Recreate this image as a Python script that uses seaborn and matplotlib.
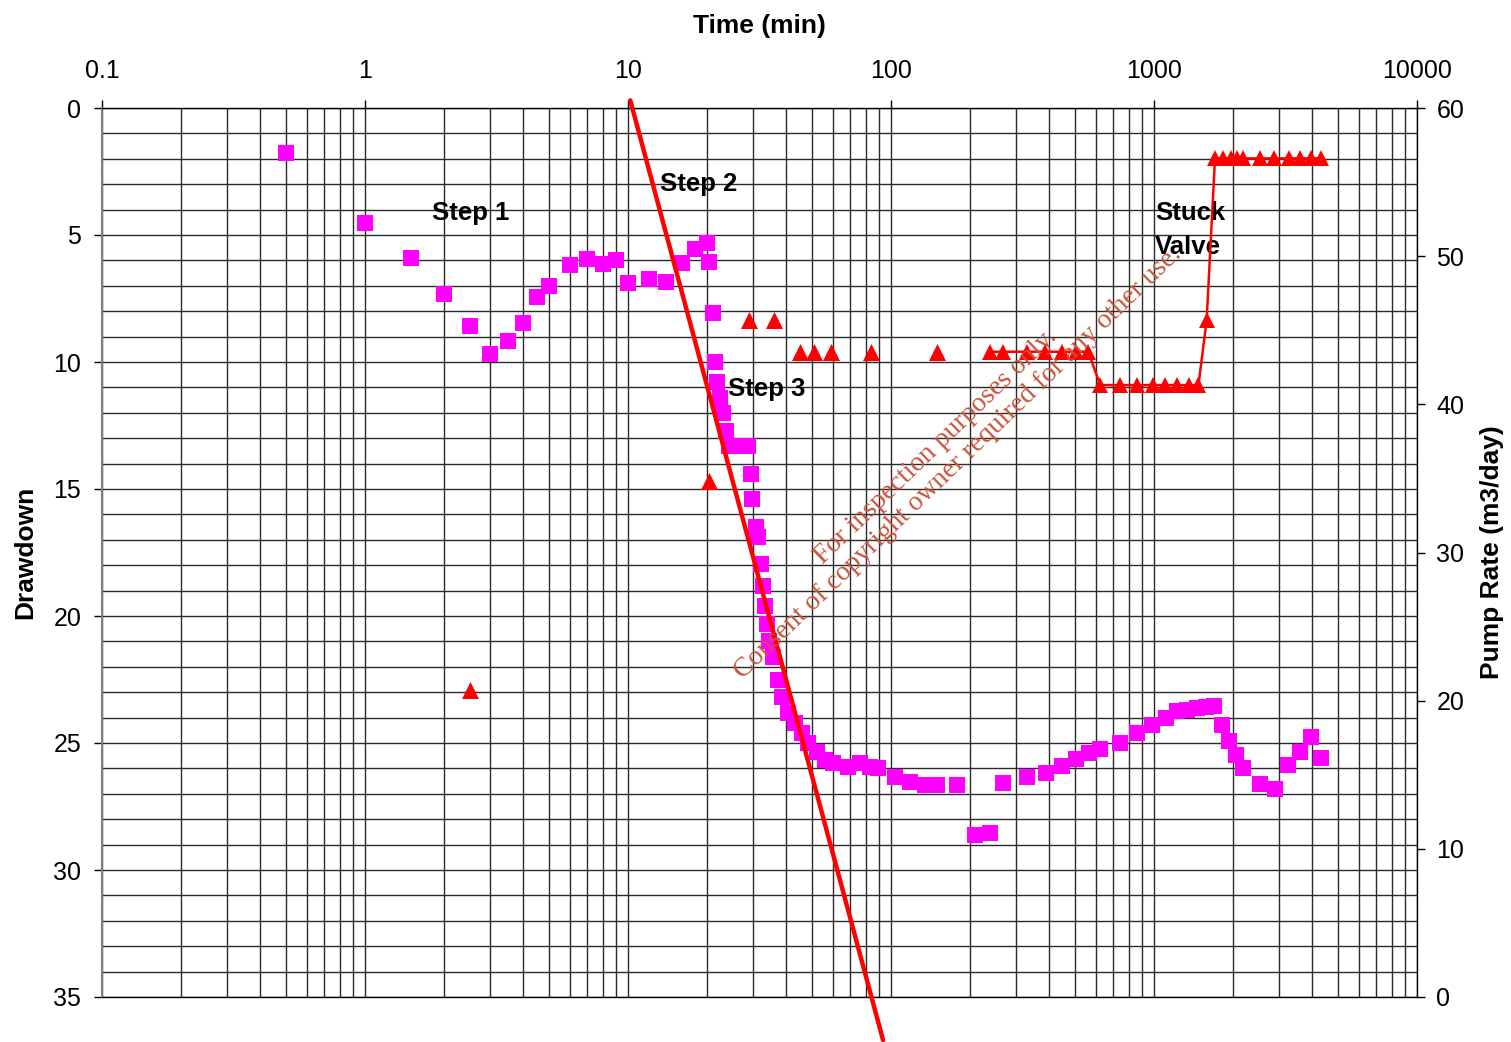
import numpy as np
import pandas as pd
import matplotlib
matplotlib.use("Agg")
import matplotlib.pyplot as plt
from matplotlib.ticker import LogLocator, FixedLocator, FixedFormatter, MultipleLocator, NullFormatter
import seaborn as sns

# Drawdown (magenta squares)
dd_time = [0.5, 1.0, 1.5, 2.0, 2.5, 3.0, 3.5, 4.0, 4.5, 5.0, 6.0, 7.0, 8.0, 9.0, 10, 12, 14, 16, 18, 20,
           20.3, 21, 21.4, 21.8, 22.3, 23, 23.6, 24.3, 26, 27.3, 28.6, 29.4, 29.7, 30.7, 31.2, 32.0, 32.6,
           33.2, 33.8, 34.5, 35.6, 37.2, 38.5, 40.6, 43.1, 45.9, 48.3, 52.3, 56.1, 60.2, 68.7, 76.2, 83.2,
           89.3, 103.5, 118, 134.6, 149.5, 178, 208.5, 237.7, 266.5, 328.9, 388, 446.7, 505, 566, 623,
           742, 862, 982, 1111, 1223, 1334, 1456, 1577, 1691, 1814, 1928, 2050, 2179, 2529, 2884, 3233,
           3590, 3953, 4315]
dd_value = [1.77, 4.52, 5.92, 7.32, 8.6, 9.68, 9.17, 8.48, 7.46, 6.99, 6.18, 5.96, 6.15, 5.98, 6.88, 6.74,
            6.87, 6.09, 5.57, 5.32, 6.08, 8.08, 10.0, 10.8, 11.4, 12.0, 12.7, 13.3, 13.3, 13.3, 13.3, 14.4,
            15.4, 16.5, 16.9, 17.95, 18.8, 19.6, 20.3, 21.0, 21.6, 22.5, 23.2, 23.8, 24.2, 24.6, 25.0,
            25.35, 25.67, 25.8, 25.95, 25.8, 25.95, 26.0, 26.35, 26.55, 26.65, 26.65, 26.65, 28.62, 28.55,
            26.57, 26.34, 26.18, 25.91, 25.63, 25.39, 25.24, 25.0, 24.61, 24.29, 24.02, 23.74, 23.7, 23.62,
            23.58, 23.54, 24.29, 24.92, 25.47, 25.98, 26.61, 26.81, 25.87, 25.35, 24.76, 25.59]

# Pump rate (red triangles), loose points
pr_time = [2.5, 20.3, 28.9, 35.9, 45.1, 51.1, 59, 83.8, 149]
pr_rate = [20.7, 34.8, 45.7, 45.7, 43.55, 43.55, 43.55, 43.55, 43.55]

# Pump rate, connected part
prl_time = [238, 267, 328, 385, 448, 505, 563, 624, 742, 865, 987, 1102, 1228, 1353, 1476, 1586,
            1706, 1835, 1958, 2063, 2187, 2530, 2867, 3259, 3590, 3943, 4315]
prl_rate = [43.55, 43.55, 43.55, 43.55, 43.55, 43.55, 43.55, 41.3, 41.3, 41.3, 41.3, 41.3, 41.3, 41.3,
            41.3, 45.7, 56.6, 56.6, 56.6, 56.6, 56.6, 56.6, 56.6, 56.6, 56.6, 56.6, 56.6]

# Straight-line fit through step 3
fit_time = [10.2, 93.3]
fit_value = [-0.3, 36.7]

x_ticks = [0.1, 1, 10, 100, 1000, 10000]
x_labels = ["0.1", "1", "10", "100", "1000", "10000"]

sns.set_style("white")
plt.rcParams['font.family'] = ['Liberation Sans', 'DejaVu Sans']
plt.rcParams['text.color'] = 'black'
plt.rcParams['axes.labelcolor'] = 'black'
plt.rcParams['xtick.color'] = 'black'
plt.rcParams['ytick.color'] = 'black'

fig = plt.figure(figsize=(15.11, 10.42), dpi=100)
ax = fig.add_axes([102 / 1511, 1 - 997 / 1042, (1417 - 102) / 1511, (997 - 108) / 1042])
ax2 = ax.twinx()

dd = pd.DataFrame({"t": dd_time, "s": dd_value})
pr = pd.DataFrame({"t": pr_time, "q": pr_rate})
prl = pd.DataFrame({"t": prl_time, "q": prl_rate})

sns.scatterplot(data=dd, x="t", y="s", ax=ax, marker="s", s=120, color="#FF00FF",
                linewidth=0, zorder=3, legend=False)
ax.plot(fit_time, fit_value, color="#FF0000", linewidth=3.2, clip_on=False, zorder=4)

sns.scatterplot(data=pr, x="t", y="q", ax=ax2, marker="^", s=150, color="#FF0000",
                linewidth=0, zorder=3, legend=False)
sns.lineplot(data=prl, x="t", y="q", ax=ax2, color="#FF0000", linewidth=1.8, marker="^",
             markersize=12, markeredgewidth=0, sort=False, estimator=None, zorder=3)

ax.set_xscale("log")
ax.set_xlim(0.1, 10000)
ax.set_ylim(35, 0)
ax2.set_ylim(0, 60)

ax.grid(False)
ax2.grid(False)
ax.xaxis.set_major_locator(FixedLocator(x_ticks))
ax.xaxis.set_minor_locator(LogLocator(base=10, subs=np.arange(2, 10)))
ax.xaxis.set_major_formatter(FixedFormatter(x_labels))
ax.xaxis.set_minor_formatter(NullFormatter())
ax.yaxis.set_major_locator(MultipleLocator(5))
ax.yaxis.set_minor_locator(MultipleLocator(1))
ax.grid(True, which="both", axis="both", color="#2a2a2a", linewidth=1.0)
ax.set_axisbelow(True)

ax.xaxis.tick_top()
ax.xaxis.set_label_position("top")
ax.tick_params(axis="x", which="major", top=True, bottom=False, labeltop=True, labelbottom=False,
               direction="out", length=6, width=1, pad=12, labelsize=18)
ax.tick_params(axis="x", which="minor", top=False, bottom=False, length=0)
ax.tick_params(axis="y", which="major", left=True, direction="out", length=6, width=1, pad=9,
               labelsize=18)
ax.tick_params(axis="y", which="minor", length=0)
ax.set_xlabel("Time (min)", fontsize=19, fontweight="bold")
ax.xaxis.set_label_coords(0.5, (997 - 33) / 889)
ax.set_ylabel("Drawdown", fontsize=19, fontweight="bold")
ax.yaxis.set_label_coords((37 - 102) / 1315, 0.5)

for side in ["top", "bottom", "right"]:
    ax.spines[side].set_color("black")
    ax.spines[side].set_linewidth(1.0)
ax.spines["left"].set_color("#808080")
ax.spines["left"].set_linewidth(1.5)

ax2.yaxis.set_major_locator(MultipleLocator(10))
ax2.tick_params(axis="y", right=True, direction="out", length=6, width=1, pad=8, labelsize=18)
ax2.tick_params(axis="x", which="both", top=False, bottom=False, labeltop=False, labelbottom=False)
ax2.set_ylabel("Pump Rate (m3/day)", fontsize=19, fontweight="bold")
ax2.yaxis.set_label_coords((1480 - 102) / 1315, 0.5)
ax2.set_xlabel("")
for side in ["top", "bottom", "left", "right"]:
    ax2.spines[side].set_visible(False)

ax.text(1.80, 4.13, "Step 1", fontsize=18.5, fontweight="bold", va="center", ha="left", zorder=5)
ax.text(13.2, 2.99, "Step 2", fontsize=18.5, fontweight="bold", va="center", ha="left", zorder=5)
ax.text(24.0, 11.06, "Step 3", fontsize=18.5, fontweight="bold", va="center", ha="left", zorder=5)
ax.text(1009, 4.13, "Stuck", fontsize=18.5, fontweight="bold", va="center", ha="left", zorder=5)
ax.text(1009, 5.47, "Valve", fontsize=18.5, fontweight="bold", va="center", ha="left", zorder=5)

wm = "#C8553D"
fig.text(936 / 1511, 1 - 447 / 1042, "For inspection purposes only.", family="Liberation Serif",
         fontsize=20, color=wm, rotation=44, rotation_mode="anchor", ha="center", va="center")
fig.text(958 / 1511, 1 - 463 / 1042, "Consent of copyright owner required for any other use.",
         family="Liberation Serif", fontsize=20, color=wm, rotation=44, rotation_mode="anchor",
         ha="center", va="center")

fig.savefig("out.png", dpi=100)
